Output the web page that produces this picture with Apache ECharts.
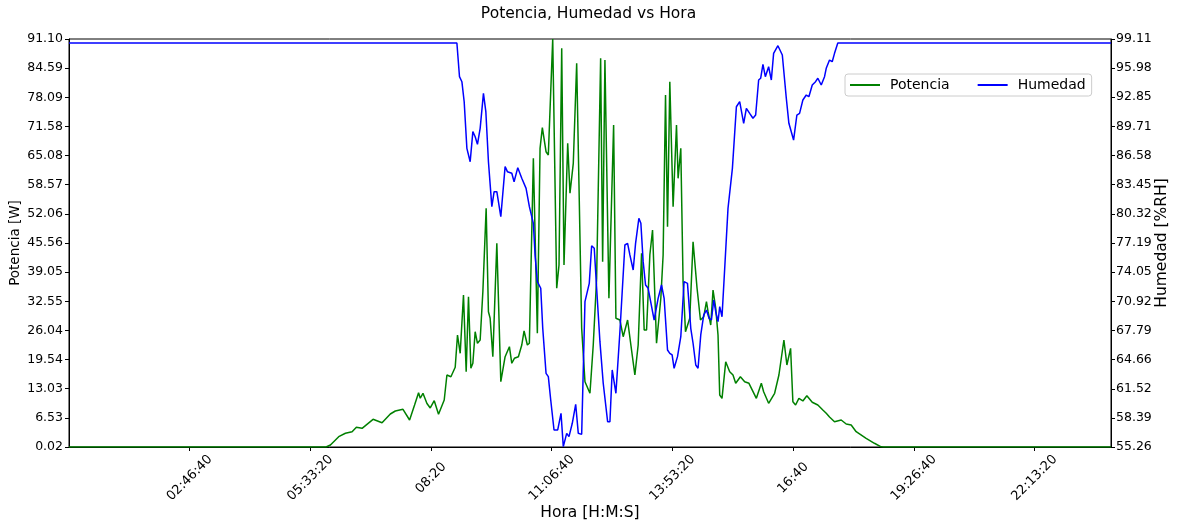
<!DOCTYPE html>
<html>
<head>
<meta charset="utf-8">
<script src="https://cdn.jsdelivr.net/npm/echarts@6/dist/echarts.min.js"></script>
<style>
html,body{margin:0;padding:0;background:#fff;}
#chart{width:1177px;height:522px;}
</style>
</head>
<body>
<div id="chart"></div>
<script>
// Time of day in seconds
const potTime = [0,21300,21662,22348,22903,23457,23812,24284,25194,25938,26624,27038,27675,28221,28634,28965,29106,29329,29660,29933,30264,30619,31091,31314,31645,32001,32191,32414,32687,32910,33101,33299,33464,33655,33845,34068,34292,34565,34755,34895,35119,35450,35780,36136,36492,36690,36905,37236,37517,37707,37980,38146,38477,38808,39031,39221,39527,39717,40081,40412,40602,40826,41016,41322,41512,41785,42066,42257,42480,42753,43166,43439,43720,44051,44217,44407,44738,45127,45317,45648,45921,46285,46557,46888,47161,47443,47658,47856,48129,48352,48683,49039,49229,49428,49593,49783,50056,50337,50470,50693,50883,51082,51437,51710,52041,52322,52595,52819,52951,53174,53365,53588,53778,53919,54109,54415,54746,55019,55242,55631,55986,56342,56954,57367,57558,57971,58468,58823,59237,59485,59626,59791,59981,60205,60478,60808,61139,61586,62049,62463,62744,63017,63431,63985,64398,64812,65225,66052,66739,67293,67500,86340];
const potValues = [0.02,0.02,0.47,2.32,3.08,3.44,4.42,4.19,6.20,5.44,7.39,8.06,8.44,6.05,9.40,12.14,10.90,12.01,9.73,8.73,10.36,7.32,10.51,16.09,15.71,17.81,25.02,20.94,33.95,16.83,33.57,17.59,18.71,25.76,23.17,23.91,34.69,53.31,30.22,28.75,20.18,45.49,14.60,20.18,22.41,18.71,19.82,20.18,22.79,25.92,22.79,23.17,64.47,25.40,66.70,71.30,65.94,65.21,91.10,35.45,40.65,89.03,40.65,67.82,56.66,63.35,85.68,58.51,26.52,14.60,12.01,22.79,37.68,86.79,41.39,86.41,33.22,71.90,28.75,28.37,24.64,28.37,22.79,16.09,22.79,43.26,26.14,26.14,42.88,48.46,23.17,33.22,42.88,78.60,49.20,81.57,53.66,71.90,60.00,66.70,36.92,25.76,28.75,45.85,35.45,28.37,29.11,32.46,30.22,27.25,35.07,30.98,25.02,11.63,10.89,19.06,16.83,16.09,14.24,15.71,14.60,14.24,10.89,14.24,12.36,9.78,12.01,16.09,23.91,18.33,17.95,22.05,10.13,9.40,10.89,10.29,11.47,10.00,9.40,8.28,7.54,6.72,5.67,6.05,5.15,4.93,3.44,1.96,0.85,0.05,0.02,0.02];

const humTime = [0,32141,32356,32555,32745,32968,33241,33464,33655,33845,34068,34341,34540,34755,35036,35226,35450,35780,36136,36326,36690,36880,37186,37517,37873,38146,38477,38617,38808,39089,39254,39527,39717,39916,40189,40495,40768,40958,41239,41429,41702,41984,42199,42480,42753,43109,43307,43522,43720,43993,44266,44407,44630,44821,45011,45176,45317,45648,46061,46285,46474,46748,46946,47219,47385,47575,47773,47988,48485,48815,49097,49312,49593,49783,49974,50139,50420,50693,50966,51247,51520,51710,51934,52124,52347,52595,52819,53034,53232,53422,53588,53778,53919,54109,54332,54605,54969,55300,55573,55713,55904,56127,56400,56673,56896,57144,57310,57500,57699,57971,58195,58385,58741,59105,59436,59650,59791,60039,60312,60535,60808,61090,61305,61586,61859,62049,62330,62603,62744,63017,63240,63431,63703,86340];
const humValues = [98.68,98.68,95.06,94.52,92.37,87.36,85.92,89.15,88.61,87.79,89.51,93.27,91.30,85.92,81.09,82.70,82.70,80.01,85.39,84.85,84.68,83.77,85.28,84.14,83.06,81.09,79.30,75.90,73.03,72.32,68.02,63.18,62.82,60.31,57.09,57.09,58.88,55.30,56.73,56.37,57.81,59.85,56.73,56.62,70.88,72.85,76.89,76.62,72.32,66.58,62.11,62.28,57.98,57.98,63.54,63.72,61.03,67.65,76.97,77.15,75.90,74.28,77.15,79.84,79.30,75.18,72.67,72.32,68.91,71.24,72.67,71.24,65.69,65.33,65.15,63.72,64.97,67.11,73.03,72.85,68.02,66.41,64.07,63.72,67.30,69.45,69.98,69.09,68.91,71.06,69.80,68.73,70.34,69.26,74.47,80.91,85.21,91.83,92.37,92.20,90.05,91.66,91.12,90.59,90.94,94.70,94.89,96.39,95.06,96.13,94.70,97.57,98.39,97.39,92.74,90.05,89.87,88.25,90.94,91.12,92.55,93.09,92.91,94.17,94.52,94.89,94.17,95.06,95.96,96.85,96.67,97.57,98.68,98.68];

const xTickValues = [10000,20000,30000,40000,50000,60000,70000,80000];
const xTickLabels = ['02:46:40','05:33:20','08:20','11:06:40','13:53:20','16:40','19:26:40','22:13:20'];
const potTickLabels = ['0.02','6.53','13.03','19.54','26.04','32.55','39.05','45.56','52.06','58.57','65.08','71.58','78.09','84.59','91.10'];
const humTickLabels = ['55.26','58.39','61.52','64.66','67.79','70.92','74.05','77.19','80.32','83.45','86.58','89.71','92.85','95.98','99.11'];

const FONT = 'DejaVu Sans';
const potTickValues = potTickLabels.map(Number);
const humTickValues = humTickLabels.map(Number);

function nearestLabel(values, labels, v) {
  let best = 0, bd = Infinity;
  for (let i = 0; i < values.length; i++) {
    const d = Math.abs(values[i] - v);
    if (d < bd) { bd = d; best = i; }
  }
  return labels[best];
}

const chart = echarts.init(document.getElementById('chart'), null, {renderer: 'canvas'});
chart.setOption({
  animation: false,
  backgroundColor: '#fff',
  title: {
    text: 'Potencia, Humedad vs Hora',
    left: 'center',
    top: 6,
    padding: 0,
    textStyle: {fontFamily: FONT, fontSize: 15.5, fontWeight: 'normal', color: '#000'}
  },
  legend: {
    data: ['Potencia', 'Humedad'],
    left: 845,
    top: 74,
    orient: 'horizontal',
    padding: [4, 6, 4, 5],
    itemGap: 28,
    itemWidth: 30,
    itemHeight: 2,
    icon: 'rect',
    borderColor: '#cccccc',
    borderWidth: 1,
    borderRadius: 3,
    backgroundColor: 'rgba(255,255,255,0.85)',
    textStyle: {fontFamily: FONT, fontSize: 14, color: '#000', padding: [0, 0, 0, 5]}
  },
  grid: {
    left: 69, right: 66, top: 39, bottom: 75,
    outerBoundsMode: 'none',
    containLabel: false,
    show: true, borderColor: '#000', borderWidth: 1, backgroundColor: 'transparent'
  },
  xAxis: {
    type: 'value',
    min: 0,
    max: 86340,
    name: 'Hora [H:M:S]',
    nameLocation: 'middle',
    nameGap: 58,
    nameMoveOverlap: false,
    nameTextStyle: {fontFamily: FONT, fontSize: 15.5, color: '#000'},
    axisLine: {show: true, lineStyle: {color: '#000', width: 1}},
    axisTick: {show: true, customValues: xTickValues, length: 4, lineStyle: {color: '#000'}},
    axisLabel: {
      customValues: xTickValues,
      rotate: 45,
      align: 'center',
      verticalAlign: 'middle',
      margin: 31,
      fontFamily: FONT, fontSize: 13, color: '#000',
      formatter: v => nearestLabel(xTickValues, xTickLabels, v)
    },
    splitLine: {show: false}
  },
  yAxis: [
    {
      type: 'value',
      position: 'left',
      min: 0.02,
      max: 91.10,
      name: 'Potencia [W]',
      nameLocation: 'middle',
      nameRotate: 90,
      nameGap: 47,
      nameMoveOverlap: false,
      nameTextStyle: {fontFamily: FONT, fontSize: 13.5, color: '#000'},
      axisLine: {show: true, lineStyle: {color: '#000', width: 1}},
      axisTick: {show: true, customValues: potTickValues, length: 4, lineStyle: {color: '#000'}},
      axisLabel: {
        customValues: potTickValues,
        margin: 6,
        fontFamily: FONT, fontSize: 12.5, color: '#000',
        formatter: v => nearestLabel(potTickValues, potTickLabels, v)
      },
      splitLine: {show: false}
    },
    {
      type: 'value',
      position: 'right',
      min: 55.26,
      max: 99.11,
      name: 'Humedad [%RH]',
      nameLocation: 'middle',
      nameRotate: 90,
      nameGap: 43,
      nameMoveOverlap: false,
      nameTextStyle: {fontFamily: FONT, fontSize: 15.5, color: '#000'},
      axisLine: {show: true, lineStyle: {color: '#000', width: 1}},
      axisTick: {show: true, customValues: humTickValues, length: 4, lineStyle: {color: '#000'}},
      axisLabel: {
        customValues: humTickValues,
        margin: 5,
        fontFamily: FONT, fontSize: 12.5, color: '#000',
        formatter: v => nearestLabel(humTickValues, humTickLabels, v)
      },
      splitLine: {show: false}
    }
  ],
  series: [
    {
      name: 'Potencia',
      type: 'line',
      yAxisIndex: 0,
      data: potTime.map((t, i) => [t, potValues[i]]),
      showSymbol: false,
      symbol: 'none',
      color: '#008000',
      lineStyle: {color: '#008000', width: 1.5},
      z: 2
    },
    {
      name: 'Humedad',
      type: 'line',
      yAxisIndex: 1,
      data: humTime.map((t, i) => [t, humValues[i]]),
      showSymbol: false,
      symbol: 'none',
      color: '#0000ff',
      lineStyle: {color: '#0000ff', width: 1.5},
      z: 3
    }
  ]
});
</script>
</body>
</html>
